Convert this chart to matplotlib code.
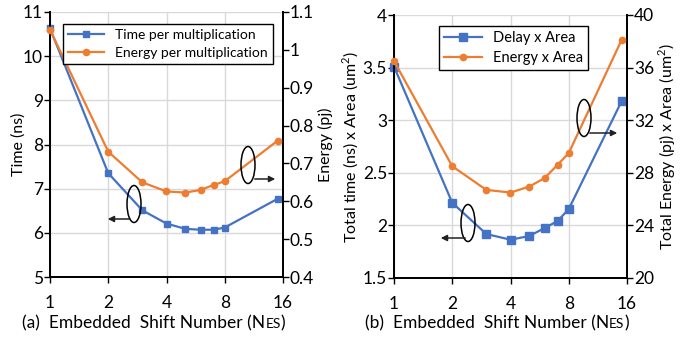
import matplotlib
matplotlib.use("Agg")
from matplotlib import pyplot as plt
from matplotlib.patches import Ellipse, FancyArrowPatch

# data
nes = [1, 2, 3, 4, 5, 6, 7, 8, 15]
time_per_mult = [10.63, 7.35, 6.51, 6.21, 6.09, 6.07, 6.07, 6.12, 6.77]
energy_per_mult = [1.053, 0.731, 0.650, 0.626, 0.623, 0.630, 0.643, 0.653, 0.760]
delay_area = [3.51, 2.215, 1.918, 1.864, 1.899, 1.975, 2.041, 2.155, 3.18]
energy_area = [36.5, 28.5, 26.7, 26.5, 26.95, 27.6, 28.6, 29.5, 38.1]
xticks = [1, 2, 4, 8, 16]
xtick_labels = ["1", "2", "4", "8", "16"]

blue = "#4472C4"
orange = "#ED7D31"
grid_c = "#D9D9D9"

plt.rcParams['font.family'] = ['Lato', 'DejaVu Sans']
plt.rcParams['mathtext.fontset'] = 'custom'
plt.rcParams['mathtext.rm'] = 'Lato'

W, H = 692, 337
fig = plt.figure(figsize=(W / 100, H / 100), dpi=100)


def setup(ax, ax2):
    ax.set_xscale('log', base=2)
    ax.set_xlim(1, 16)
    ax.set_xticks(xticks)
    ax.set_xticklabels(xtick_labels)
    ax.minorticks_off()
    ax.grid(True, color=grid_c, lw=1)
    ax.set_axisbelow(True)
    ax.spines['top'].set_visible(False)
    ax2.spines['top'].set_visible(False)
    for a in (ax, ax2):
        for s in a.spines.values():
            s.set_linewidth(1.3)
    ax.tick_params(axis='x', direction='out', length=4, width=1, pad=9, labelsize=12.5)
    ax.tick_params(axis='y', direction='out', length=4, width=1, pad=1, labelsize=12.5)
    ax2.tick_params(axis='y', direction='out', length=4, width=1, pad=1, labelsize=12.5)


# panel (a)
ax1 = fig.add_axes([50 / W, 1 - 277 / H, 233 / W, 265 / H])
ax1b = ax1.twinx()
setup(ax1, ax1b)
l1, = ax1.plot(nes, time_per_mult, color=blue, lw=1.6, marker='s', ms=4,
               label="Time per multiplication", clip_on=False, zorder=3)
l2, = ax1b.plot(nes, energy_per_mult, color=orange, lw=1.6, marker='o', ms=4.5,
                label="Energy per multiplication", clip_on=False, zorder=3)
ax1.set_ylim(5, 11)
ax1b.set_ylim(0.4, 1.1)
ax1.set_yticks(range(5, 12))
ax1b.set_yticks([0.4, 0.5, 0.6, 0.7, 0.8, 0.9, 1.0, 1.1])
ax1b.set_yticklabels(["0.4", "0.5", "0.6", "0.7", "0.8", "0.9", "1", "1.1"])
ax1.set_ylabel("Time (ns)", fontsize=11.5)
ax1.yaxis.set_label_coords(-0.105, 0.5)
ax1b.set_ylabel("Energy (pj)", fontsize=11.5, labelpad=3)
ax1.set_xlim(1, 16)
leg = ax1b.legend(handles=[l1, l2], loc='upper center', bbox_to_anchor=(0.506, 0.98),
                  fontsize=10, fancybox=False, edgecolor='black', framealpha=1,
                  handlelength=2.6, borderpad=0.35, labelspacing=0.4)
leg.get_frame().set_linewidth(1.0)

# panel (b)
ax3 = fig.add_axes([394 / W, 1 - 278 / H, 233 / W, 263 / H])
ax3b = ax3.twinx()
setup(ax3, ax3b)
l3, = ax3.plot(nes, delay_area, color=blue, lw=1.6, marker='s', ms=6,
               label="Delay x Area", clip_on=False, zorder=3)
l4, = ax3b.plot(nes, energy_area, color=orange, lw=1.6, marker='o', ms=4.5,
                label="Energy x Area", clip_on=False, zorder=3)
ax3.set_ylim(1.5, 4)
ax3b.set_ylim(20, 40)
ax3.set_yticks([1.5, 2, 2.5, 3, 3.5, 4])
ax3.set_yticklabels(["1.5", "2", "2.5", "3", "3.5", "4"])
ax3b.set_yticks([20, 24, 28, 32, 36, 40])
ax3.set_ylabel("Total time (ns) x Area (um$^{2}$)", fontsize=11.5, labelpad=1)
ax3b.set_ylabel("Total Energy (pj) x Area (um$^{2}$)", fontsize=11.5, labelpad=2)
ax3.set_xlim(1, 16)
leg2 = ax3b.legend(handles=[l3, l4], loc='upper center', bbox_to_anchor=(0.513, 0.985),
                   fontsize=10.5, fancybox=False, edgecolor='black', framealpha=1,
                   handlelength=2.6, borderpad=0.35, labelspacing=0.4)
leg2.get_frame().set_linewidth(1.0)

# x labels with small-caps subscript
renderer = fig.canvas.get_renderer()


def xlabel(cx, y, prefix):
    parts = [(prefix + "  Embedded  Shift Number (N", 12.5), ("ES", 10), (")", 12.5)]
    texts = []
    x = 0
    for s, fs in parts:
        t = fig.text(x / W, 1 - y / H, s, fontsize=fs, va='baseline', ha='left')
        texts.append(t)
        x += t.get_window_extent(renderer).width
    x0 = cx - x / 2
    for t in texts:
        t.set_x(x0 / W)
        x0 += t.get_window_extent(renderer).width


xlabel(154, 328, "(a)")
xlabel(497, 328, "(b)")

# annotations: ellipses with arrows
for cx, cy in [(134, 204), (248, 165), (468, 223), (584, 118)]:
    fig.add_artist(Ellipse((cx / W, 1 - cy / H), 14 / W, 37 / H, transform=fig.transFigure,
                           fill=False, ec='black', lw=1.1))
for (x0, y0), (x1, y1) in [((133, 219), (105, 219)), ((252, 179), (278, 179)),
                           ((468, 238), (438, 238)), ((587, 133), (620, 133))]:
    fig.add_artist(FancyArrowPatch((x0 / W, 1 - y0 / H), (x1 / W, 1 - y1 / H),
                                   transform=fig.transFigure, arrowstyle='-|>',
                                   mutation_scale=9, color='#222222', lw=1.1))

fig.savefig("out.png", dpi=100)
